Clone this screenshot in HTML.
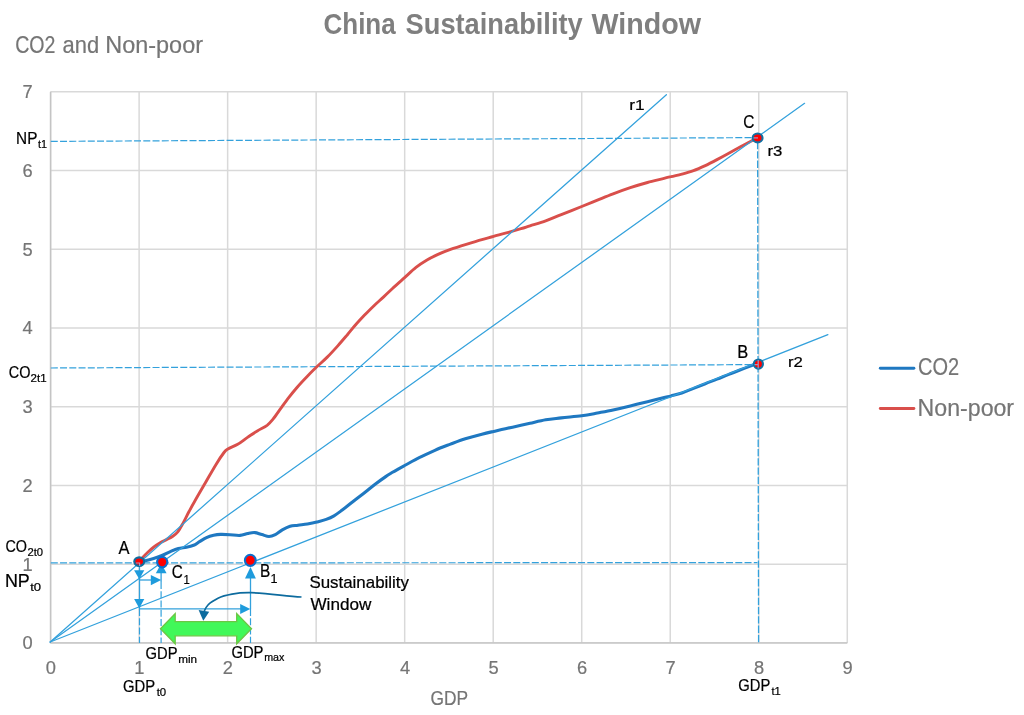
<!DOCTYPE html>
<html lang="en"><head><meta charset="utf-8"><title>China Sustainability Window</title>
<style>html,body{margin:0;padding:0;background:#fff}svg{display:block}</style></head>
<body>
<svg width="1024" height="715" viewBox="0 0 1024 715" font-family='"Liberation Sans", Arial, sans-serif'>
<rect width="1024" height="715" fill="#fff"/>
<path d="M50.60,91.72 V642.90 M139.12,91.72 V642.90 M227.64,91.72 V642.90 M316.16,91.72 V642.90 M404.68,91.72 V642.90 M493.20,91.72 V642.90 M581.72,91.72 V642.90 M670.24,91.72 V642.90 M758.76,91.72 V642.90 M847.28,91.72 V642.90 M50.60,642.90 H847.28 M50.60,564.16 H847.28 M50.60,485.42 H847.28 M50.60,406.68 H847.28 M50.60,327.94 H847.28 M50.60,249.20 H847.28 M50.60,170.46 H847.28 M50.60,91.72 H847.28" stroke="#d9d9d9" stroke-width="1.5" fill="none"/>
<path d="M50.60,91.72 V642.90 H847.28" stroke="#c4c4c4" stroke-width="1.4" fill="none"/>
<g stroke="#33a1dc" stroke-width="1.2" fill="none" stroke-dasharray="7 2.25">
<line x1="50.8" y1="141.4" x2="757.5" y2="137.6"/>
<line x1="50.8" y1="368" x2="758" y2="364.6"/>
<line x1="50.8" y1="562.9" x2="757.5" y2="562.6"/>
<line x1="139.5" y1="609" x2="139.5" y2="643"/>
<line x1="161.1" y1="582" x2="161.1" y2="643"/>
<line x1="250.5" y1="609" x2="250.5" y2="643"/>
</g>
<line x1="757.6" y1="142" x2="758.6" y2="643" stroke="#33a1dc" stroke-width="1.3" stroke-dasharray="7.3 2"/>
<path d="M139.6,561.2 C140.2,560.5 141.9,558.5 143.2,557.0 C144.5,555.5 145.8,554.2 147.6,552.5 C149.4,550.8 151.8,548.6 153.9,547.0 C156.0,545.4 158.1,544.0 160.2,542.8 C162.3,541.6 164.4,540.7 166.5,539.6 C168.6,538.5 170.9,537.5 172.8,536.2 C174.7,534.9 176.1,533.9 177.8,531.8 C179.5,529.7 181.0,526.9 182.8,523.6 C184.7,520.3 186.9,515.5 188.9,511.8 C190.9,508.1 191.8,506.3 194.6,501.5 C197.3,496.7 201.8,489.0 205.4,482.8 C209.0,476.6 213.1,469.2 216.2,464.2 C219.3,459.1 222.1,455.0 224.0,452.5 C225.9,450.0 225.6,450.4 227.9,449.0 C230.2,447.6 234.4,446.2 237.7,444.3 C241.0,442.4 244.2,439.6 247.5,437.4 C250.8,435.2 254.0,432.9 257.3,430.9 C260.6,428.9 264.5,427.3 267.1,425.4 C269.7,423.4 270.7,422.0 273.0,419.2 C275.3,416.4 278.2,412.0 280.8,408.4 C283.4,404.8 286.0,401.1 288.7,397.6 C291.4,394.1 294.1,390.8 297.2,387.2 C300.3,383.6 304.1,379.6 307.4,376.2 C310.7,372.8 313.5,369.9 316.8,366.8 C320.1,363.7 323.5,360.9 327.0,357.4 C330.5,353.9 334.6,349.4 338.0,345.6 C341.4,341.8 344.5,338.1 347.4,334.7 C350.3,331.3 352.3,328.6 355.2,325.3 C358.1,322.0 361.5,318.4 364.6,315.1 C367.7,311.8 370.9,308.7 374.0,305.7 C377.1,302.7 380.3,300.0 383.4,297.1 C386.5,294.2 389.0,291.8 392.5,288.5 C396.0,285.2 400.7,281.1 404.6,277.6 C408.5,274.1 412.3,270.3 416.0,267.4 C419.7,264.5 423.3,262.2 427.0,260.0 C430.7,257.8 434.1,256.2 438.0,254.4 C441.9,252.6 445.8,251.1 450.5,249.4 C455.2,247.7 461.0,245.9 466.2,244.3 C471.4,242.7 477.3,240.9 481.9,239.6 C486.5,238.3 489.7,237.5 493.6,236.4 C497.5,235.3 500.8,234.5 505.4,233.2 C510.0,231.9 516.9,229.9 521.0,228.7 C525.1,227.5 525.9,227.1 530.0,225.8 C534.1,224.5 540.5,222.8 545.7,220.9 C550.9,219.0 555.3,217.0 561.3,214.6 C567.3,212.2 575.7,208.9 581.7,206.5 C587.7,204.1 592.2,202.3 597.4,200.2 C602.6,198.1 607.6,196.0 613.1,193.9 C618.6,191.8 624.6,189.6 630.3,187.7 C636.0,185.8 642.0,184.0 647.5,182.5 C653.0,181.0 659.3,179.6 663.2,178.6 C667.1,177.6 667.9,177.4 671.0,176.7 C674.1,175.9 678.0,175.1 681.8,174.1 C685.5,173.1 689.6,172.0 693.5,170.6 C697.4,169.2 701.4,167.4 705.3,165.6 C709.2,163.8 713.1,161.7 717.0,159.6 C720.9,157.5 724.9,155.3 728.8,153.2 C732.7,151.1 736.6,148.9 740.5,146.8 C744.4,144.7 749.6,141.9 752.3,140.5 C755.0,139.1 755.8,138.8 756.5,138.4" stroke="#d94f4b" stroke-width="2.9" fill="none" stroke-linecap="round" stroke-linejoin="round"/>
<path d="M139.6,562.0 C140.4,561.9 141.9,561.7 144.2,561.1 C146.5,560.5 150.6,559.4 153.6,558.5 C156.6,557.6 158.9,556.7 161.9,555.5 C164.9,554.3 168.6,552.3 171.3,551.1 C174.0,549.9 175.8,549.1 178.3,548.5 C180.8,547.9 183.9,547.7 186.5,547.2 C189.1,546.7 191.4,546.2 193.6,545.3 C195.8,544.4 197.3,543.0 199.5,541.7 C201.7,540.4 204.2,538.7 206.5,537.6 C208.8,536.5 211.2,535.8 213.6,535.3 C215.9,534.8 217.9,534.5 220.6,534.4 C223.3,534.3 226.8,534.5 230.0,534.7 C233.2,534.9 237.0,535.6 240.0,535.4 C243.0,535.2 245.3,534.0 247.8,533.5 C250.3,533.0 252.6,532.4 254.9,532.6 C257.2,532.8 259.5,534.0 261.9,534.6 C264.2,535.2 266.8,536.5 269.0,536.5 C271.2,536.5 273.1,535.7 275.3,534.6 C277.5,533.5 279.8,531.3 282.3,529.9 C284.8,528.5 287.5,527.1 290.1,526.3 C292.7,525.5 295.1,525.6 298.0,525.2 C300.9,524.8 304.3,524.5 307.4,524.0 C310.5,523.5 313.7,522.9 316.8,522.1 C319.9,521.3 323.3,520.5 326.2,519.4 C329.1,518.3 331.4,517.3 334.0,515.8 C336.6,514.3 338.8,512.6 341.9,510.3 C345.0,508.0 348.9,504.8 352.8,501.7 C356.7,498.6 361.7,494.9 365.4,492.0 C369.1,489.1 371.4,487.1 374.8,484.5 C378.2,481.9 382.8,478.6 385.7,476.6 C388.6,474.6 389.4,474.2 392.5,472.3 C395.6,470.4 400.2,467.9 404.6,465.5 C409.1,463.1 414.1,460.2 419.2,457.7 C424.2,455.2 429.7,452.6 434.9,450.3 C440.1,448.0 445.3,446.1 450.5,444.1 C455.7,442.2 461.0,440.2 466.2,438.6 C471.4,437.0 477.3,435.4 481.9,434.2 C486.5,433.0 489.7,432.3 493.6,431.4 C497.5,430.5 500.8,429.7 505.4,428.7 C510.0,427.7 516.9,426.2 521.0,425.3 C525.1,424.4 525.9,424.2 530.0,423.3 C534.1,422.4 540.5,420.7 545.7,419.8 C550.9,418.9 555.3,418.6 561.3,417.9 C567.3,417.2 575.7,416.6 581.7,415.8 C587.7,415.0 592.2,414.0 597.4,413.0 C602.6,412.0 607.6,411.1 613.1,409.9 C618.6,408.7 624.6,407.3 630.3,405.9 C636.0,404.5 642.0,403.0 647.5,401.7 C653.0,400.4 659.3,398.8 663.2,397.8 C667.1,396.8 667.9,396.7 671.0,395.9 C674.1,395.1 678.0,394.2 681.8,393.0 C685.5,391.8 689.6,389.9 693.5,388.4 C697.4,386.8 701.4,385.2 705.3,383.7 C709.2,382.1 713.1,380.7 717.0,379.1 C720.9,377.6 724.9,375.9 728.8,374.4 C732.7,372.8 736.6,371.3 740.5,369.8 C744.4,368.3 749.7,366.2 752.3,365.2 C754.9,364.2 755.4,364.1 756.0,363.9" stroke="#1f78c1" stroke-width="3.1" fill="none" stroke-linecap="round" stroke-linejoin="round"/>
<g stroke="#33a1dc" stroke-width="1.25" fill="none" stroke-linecap="round">
<line x1="50.2" y1="642.0" x2="666.4" y2="94.7"/>
<line x1="50.2" y1="642.0" x2="804.6" y2="103.3"/>
<line x1="50.2" y1="642.0" x2="827.9" y2="334.7"/>
</g>
<path d="M160.5,628.7 L175.2,613.6 L175.2,621.6 L236.7,621.6 L236.7,613.6 L251.5,628.7 L236.7,643.8 L236.7,635.8 L175.2,635.8 L175.2,643.8 Z" fill="#41f859" stroke="#6cc644" stroke-width="1.3" stroke-linejoin="miter"/>
<g stroke="#33a1dc" stroke-width="1.3" fill="none">
<path d="M139.5,563 V608.9 H241"/>
<path d="M139.5,580 H152"/>
<path d="M250.5,578 V609"/>
<path d="M161.1,573 V582"/>
</g>
<g fill="#1e9bdc">
<path d="M134.1,570.2 L144.3,570.2 L139.3,579.2 Z"/>
<path d="M134.1,599 L144.3,599 L139.3,608.2 Z"/>
<path d="M150.8,575 L150.8,585.2 L161.2,580 Z"/>
<path d="M240.2,604 L240.2,614 L250.3,609 Z"/>
<path d="M155.8,573.3 L166.6,573.3 L161.2,563.5 Z"/>
<path d="M245,578.6 L255.9,578.6 L250.5,567 Z"/>
</g>
<path d="M301.5,597 C285,596 268,593.2 250.8,592.7 C243,592.5 237,593.2 232,594.1 C226,595.2 221.5,596.5 218,598.2 C213,600.8 210.5,602.5 208.6,604.3 C206.5,606.6 205.2,608.5 204.3,611" stroke="#0d6b9e" stroke-width="1.7" fill="none"/>
<path d="M198.6,609.9 L209.2,611.7 L203.3,620.7 Z" fill="#0d6b9e"/>
<ellipse cx="139.2" cy="561.6" rx="4.90" ry="4.25" fill="#ff0000" stroke="#106c9e" stroke-width="2.2"/>
<ellipse cx="162.2" cy="562.1" rx="5.10" ry="5.25" fill="#ff0000" stroke="#0b6fce" stroke-width="2.1"/>
<ellipse cx="250.3" cy="560.3" rx="5.40" ry="5.55" fill="#ff0000" stroke="#0b6fce" stroke-width="2.1"/>
<ellipse cx="757.6" cy="137.9" rx="4.95" ry="4.45" fill="#ff0000" stroke="#1270a2" stroke-width="2.1"/>
<ellipse cx="758.4" cy="364.1" rx="4.55" ry="4.60" fill="#ff0000" stroke="#1270a2" stroke-width="2.1"/>
<g stroke="#8fb4e6" stroke-width="1.2" fill="none" opacity="0.85">
<path d="M136,563 H140.2 M139.6,563 V566"/>
<path d="M753.5,137.9 H758"/>
<path d="M754.5,364.6 H758 M758.2,360 V368.5"/>
</g>
<text x="323.5" y="33.6" font-size="29.0" fill="#7f7f7f" text-anchor="start" font-weight="bold" textLength="72.2" lengthAdjust="spacingAndGlyphs">China</text>
<text x="405.6" y="33.6" font-size="29.0" fill="#7f7f7f" text-anchor="start" font-weight="bold" textLength="177.1" lengthAdjust="spacingAndGlyphs">Sustainability</text>
<text x="591.6" y="33.6" font-size="29.0" fill="#7f7f7f" text-anchor="start" font-weight="bold" textLength="109.5" lengthAdjust="spacingAndGlyphs">Window</text>
<text x="15.2" y="52.8" font-size="23.4" fill="#757575" text-anchor="start" font-weight="normal" textLength="40.2" lengthAdjust="spacingAndGlyphs" stroke="#757575" stroke-width="0.2">CO2</text>
<text x="62.6" y="52.8" font-size="23.4" fill="#757575" text-anchor="start" font-weight="normal" textLength="36.6" lengthAdjust="spacingAndGlyphs" stroke="#757575" stroke-width="0.2">and</text>
<text x="105.3" y="52.8" font-size="23.4" fill="#757575" text-anchor="start" font-weight="normal" textLength="97.7" lengthAdjust="spacingAndGlyphs" stroke="#757575" stroke-width="0.2">Non-poor</text>
<text x="430.5" y="704.7" font-size="19.8" fill="#757575" text-anchor="start" font-weight="normal" textLength="37.6" lengthAdjust="spacingAndGlyphs" stroke="#757575" stroke-width="0.2">GDP</text>
<text x="918.1" y="375.3" font-size="23.7" fill="#757575" text-anchor="start" font-weight="normal" textLength="41.1" lengthAdjust="spacingAndGlyphs" stroke="#757575" stroke-width="0.2">CO2</text>
<text x="917.6" y="416.0" font-size="23.7" fill="#757575" text-anchor="start" font-weight="normal" textLength="96.5" lengthAdjust="spacingAndGlyphs" stroke="#757575" stroke-width="0.2">Non-poor</text>
<text x="629.2" y="109.5" font-size="15.3" fill="#000" text-anchor="start" font-weight="normal" textLength="15.4" lengthAdjust="spacingAndGlyphs" stroke="#000" stroke-width="0.22">r1</text>
<text x="767.5" y="155.7" font-size="15.3" fill="#000" text-anchor="start" font-weight="normal" textLength="14.9" lengthAdjust="spacingAndGlyphs" stroke="#000" stroke-width="0.22">r3</text>
<text x="787.9" y="367.2" font-size="15.3" fill="#000" text-anchor="start" font-weight="normal" textLength="14.9" lengthAdjust="spacingAndGlyphs" stroke="#000" stroke-width="0.22">r2</text>
<text x="743.2" y="127.8" font-size="19.0" fill="#000" text-anchor="start" font-weight="normal" textLength="11.1" lengthAdjust="spacingAndGlyphs" stroke="#000" stroke-width="0.22">C</text>
<text x="737.2" y="357.8" font-size="18.0" fill="#000" text-anchor="start" font-weight="normal" textLength="11.0" lengthAdjust="spacingAndGlyphs" stroke="#000" stroke-width="0.22">B</text>
<text x="118.6" y="554.2" font-size="18.0" fill="#000" text-anchor="start" font-weight="normal" textLength="11.0" lengthAdjust="spacingAndGlyphs" stroke="#000" stroke-width="0.22">A</text>
<text x="171.7" y="578.4" font-size="19.0" fill="#000" text-anchor="start" font-weight="normal" textLength="11.0" lengthAdjust="spacingAndGlyphs" stroke="#000" stroke-width="0.22">C</text>
<text x="183.5" y="583.6" font-size="13.0" fill="#000" text-anchor="start" font-weight="normal" textLength="6.3" lengthAdjust="spacingAndGlyphs" stroke="#000" stroke-width="0.22">1</text>
<text x="259.9" y="577.0" font-size="18.3" fill="#000" text-anchor="start" font-weight="normal" textLength="10.3" lengthAdjust="spacingAndGlyphs" stroke="#000" stroke-width="0.22">B</text>
<text x="270.6" y="582.8" font-size="13.0" fill="#000" text-anchor="start" font-weight="normal" textLength="7.0" lengthAdjust="spacingAndGlyphs" stroke="#000" stroke-width="0.22">1</text>
<text x="309.4" y="587.9" font-size="17.0" fill="#000" text-anchor="start" font-weight="normal" textLength="99.6" lengthAdjust="spacingAndGlyphs" stroke="#000" stroke-width="0.22">Sustainability</text>
<text x="310.4" y="609.8" font-size="17.0" fill="#000" text-anchor="start" font-weight="normal" textLength="61.0" lengthAdjust="spacingAndGlyphs" stroke="#000" stroke-width="0.22">Window</text>
<text x="16.1" y="143.8" font-size="16.6" fill="#000" text-anchor="start" font-weight="normal" textLength="21.3" lengthAdjust="spacingAndGlyphs" stroke="#000" stroke-width="0.22">NP</text>
<text x="38.1" y="147.8" font-size="10.9" fill="#000" text-anchor="start" font-weight="normal" textLength="9.0" lengthAdjust="spacingAndGlyphs" stroke="#000" stroke-width="0.22">t1</text>
<text x="8.8" y="377.8" font-size="15.8" fill="#000" text-anchor="start" font-weight="normal" textLength="21.7" lengthAdjust="spacingAndGlyphs" stroke="#000" stroke-width="0.22">CO</text>
<text x="30.6" y="382.0" font-size="10.5" fill="#000" text-anchor="start" font-weight="normal" textLength="16.0" lengthAdjust="spacingAndGlyphs" stroke="#000" stroke-width="0.22">2t1</text>
<text x="5.4" y="552.0" font-size="17.0" fill="#000" text-anchor="start" font-weight="normal" textLength="21.6" lengthAdjust="spacingAndGlyphs" stroke="#000" stroke-width="0.22">CO</text>
<text x="27.5" y="556.4" font-size="11.0" fill="#000" text-anchor="start" font-weight="normal" textLength="15.6" lengthAdjust="spacingAndGlyphs" stroke="#000" stroke-width="0.22">2t0</text>
<text x="4.9" y="586.5" font-size="17.7" fill="#000" text-anchor="start" font-weight="normal" textLength="24.9" lengthAdjust="spacingAndGlyphs" stroke="#000" stroke-width="0.22">NP</text>
<text x="30.2" y="591.4" font-size="10.9" fill="#000" text-anchor="start" font-weight="normal" textLength="10.9" lengthAdjust="spacingAndGlyphs" stroke="#000" stroke-width="0.22">t0</text>
<text x="145.5" y="658.7" font-size="16.8" fill="#000" text-anchor="start" font-weight="normal" textLength="32.0" lengthAdjust="spacingAndGlyphs" stroke="#000" stroke-width="0.22">GDP</text>
<text x="178.2" y="662.5" font-size="11.3" fill="#000" text-anchor="start" font-weight="normal" textLength="18.9" lengthAdjust="spacingAndGlyphs" stroke="#000" stroke-width="0.22">min</text>
<text x="231.4" y="657.7" font-size="16.8" fill="#000" text-anchor="start" font-weight="normal" textLength="32.1" lengthAdjust="spacingAndGlyphs" stroke="#000" stroke-width="0.22">GDP</text>
<text x="264.2" y="661.1" font-size="11.3" fill="#000" text-anchor="start" font-weight="normal" textLength="20.2" lengthAdjust="spacingAndGlyphs" stroke="#000" stroke-width="0.22">max</text>
<text x="123.0" y="692.3" font-size="16.8" fill="#000" text-anchor="start" font-weight="normal" textLength="32.1" lengthAdjust="spacingAndGlyphs" stroke="#000" stroke-width="0.22">GDP</text>
<text x="156.7" y="696.0" font-size="11.3" fill="#000" text-anchor="start" font-weight="normal" textLength="9.5" lengthAdjust="spacingAndGlyphs" stroke="#000" stroke-width="0.22">t0</text>
<text x="738.3" y="691.2" font-size="16.8" fill="#000" text-anchor="start" font-weight="normal" textLength="32.0" lengthAdjust="spacingAndGlyphs" stroke="#000" stroke-width="0.22">GDP</text>
<text x="771.4" y="695.2" font-size="11.3" fill="#000" text-anchor="start" font-weight="normal" textLength="9.3" lengthAdjust="spacingAndGlyphs" stroke="#000" stroke-width="0.22">t1</text>
<text x="27.6" y="649.3" font-size="18.3" fill="#757575" text-anchor="middle" font-weight="normal" stroke="#757575" stroke-width="0.2">0</text>
<text x="27.6" y="570.6" font-size="18.3" fill="#757575" text-anchor="middle" font-weight="normal" stroke="#757575" stroke-width="0.2">1</text>
<text x="27.6" y="491.8" font-size="18.3" fill="#757575" text-anchor="middle" font-weight="normal" stroke="#757575" stroke-width="0.2">2</text>
<text x="27.6" y="413.1" font-size="18.3" fill="#757575" text-anchor="middle" font-weight="normal" stroke="#757575" stroke-width="0.2">3</text>
<text x="27.6" y="334.3" font-size="18.3" fill="#757575" text-anchor="middle" font-weight="normal" stroke="#757575" stroke-width="0.2">4</text>
<text x="27.6" y="255.6" font-size="18.3" fill="#757575" text-anchor="middle" font-weight="normal" stroke="#757575" stroke-width="0.2">5</text>
<text x="27.6" y="176.9" font-size="18.3" fill="#757575" text-anchor="middle" font-weight="normal" stroke="#757575" stroke-width="0.2">6</text>
<text x="27.6" y="98.1" font-size="18.3" fill="#757575" text-anchor="middle" font-weight="normal" stroke="#757575" stroke-width="0.2">7</text>
<text x="50.9" y="674.1" font-size="18.3" fill="#757575" text-anchor="middle" font-weight="normal" stroke="#757575" stroke-width="0.2">0</text>
<text x="139.4" y="674.1" font-size="18.3" fill="#757575" text-anchor="middle" font-weight="normal" stroke="#757575" stroke-width="0.2">1</text>
<text x="227.9" y="674.1" font-size="18.3" fill="#757575" text-anchor="middle" font-weight="normal" stroke="#757575" stroke-width="0.2">2</text>
<text x="316.5" y="674.1" font-size="18.3" fill="#757575" text-anchor="middle" font-weight="normal" stroke="#757575" stroke-width="0.2">3</text>
<text x="405.0" y="674.1" font-size="18.3" fill="#757575" text-anchor="middle" font-weight="normal" stroke="#757575" stroke-width="0.2">4</text>
<text x="493.5" y="674.1" font-size="18.3" fill="#757575" text-anchor="middle" font-weight="normal" stroke="#757575" stroke-width="0.2">5</text>
<text x="582.0" y="674.1" font-size="18.3" fill="#757575" text-anchor="middle" font-weight="normal" stroke="#757575" stroke-width="0.2">6</text>
<text x="670.5" y="674.1" font-size="18.3" fill="#757575" text-anchor="middle" font-weight="normal" stroke="#757575" stroke-width="0.2">7</text>
<text x="759.1" y="674.1" font-size="18.3" fill="#757575" text-anchor="middle" font-weight="normal" stroke="#757575" stroke-width="0.2">8</text>
<text x="847.6" y="674.1" font-size="18.3" fill="#757575" text-anchor="middle" font-weight="normal" stroke="#757575" stroke-width="0.2">9</text>
<line x1="880.3" y1="368.3" x2="913.9" y2="368.3" stroke="#1f78c1" stroke-width="2.9" stroke-linecap="round"/>
<line x1="880.3" y1="408.5" x2="913.9" y2="408.5" stroke="#d94f4b" stroke-width="2.9" stroke-linecap="round"/>
</svg>
</body></html>
